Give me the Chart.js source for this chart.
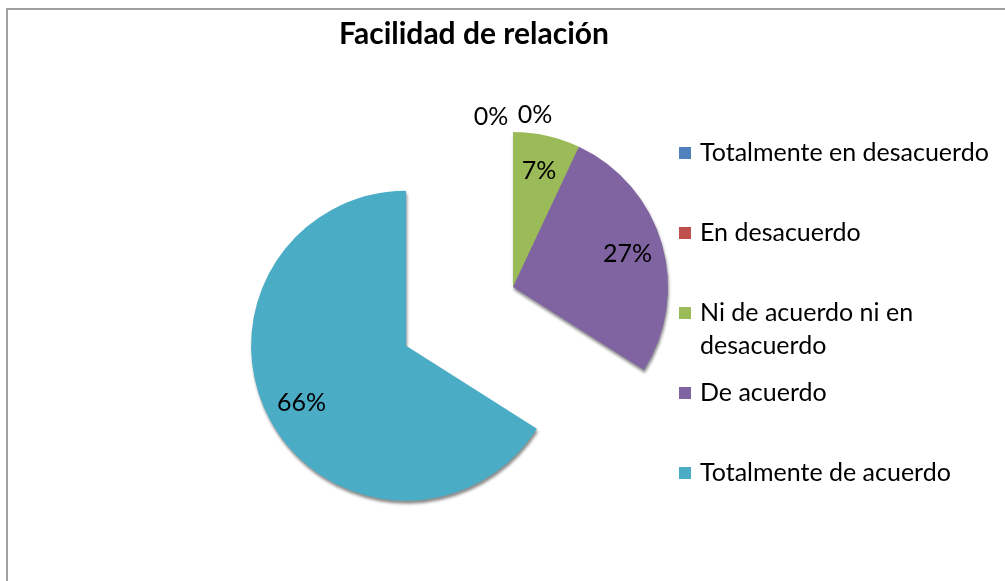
<!DOCTYPE html>
<html>
<head>
<meta charset="utf-8">
<script src="https://cdn.jsdelivr.net/npm/chart.js@4.4.0/dist/chart.umd.min.js"></script>
<style>
html, body { margin: 0; padding: 0; background: #fff; }
#wrap { position: relative; width: 1005px; height: 581px; overflow: hidden; }
#frame { position: absolute; left: 6px; top: 8px; width: 1100px; height: 700px; border-left: 2px solid #a0a0a0; border-top: 2px solid #a0a0a0; }
canvas { position: absolute; left: 0; top: 0; }
</style>
</head>
<body>
<div id="wrap">
    <div id="frame"></div>
    <canvas id="pieChart" width="1005" height="581"></canvas>
</div>
<script>
// datos
const chartTitle = 'Facilidad de relación';
const categories = ['Totalmente en desacuerdo', 'En desacuerdo', 'Ni de acuerdo ni en desacuerdo', 'De acuerdo', 'Totalmente de acuerdo'];
const percentages = [0, 0, 7, 27, 66];

const palette = ['#4F81BD', '#C0504D', '#9BBB59', '#8064A2', '#4BACC6'];
const explode = [0, 0, 0, 0, 122]; // separacion de la porcion (px)
const labelFont = '25px Lato';

// 1. Porcion separada (como en Excel: se mueve sin cambiar el radio)
const explodeSlices = {
    id: 'explodeSlices',
    afterDatasetUpdate(chart, args) {
        args.meta.data.forEach((arc, i) => {
            if (!explode[i]) return;
            const mid = (arc.startAngle + arc.endAngle) / 2;
            arc.x += Math.cos(mid) * explode[i];
            arc.y += Math.sin(mid) * explode[i];
        });
    }
};

// 2. Titulo y leyenda dibujados a mano
const titleAndLegend = {
    id: 'titleAndLegend',
    afterDraw(chart) {
        const c = chart.ctx;
        c.save();
        c.fillStyle = '#000';
        c.textBaseline = 'middle';
        c.textAlign = 'center';
        c.font = 'bold 30px Lato';
        c.fillText(chartTitle, 474, 34);

        c.font = labelFont;
        c.textAlign = 'left';
        chart.data.labels.forEach((txt, i) => {
            const y = 153 + i * 80;
            c.fillStyle = palette[i];
            c.fillRect(679, y - 6, 12, 12);
            c.fillStyle = '#000';
            // partir el texto en lineas
            const words = txt.split(' ');
            let lines = [], line = '';
            words.forEach(w => {
                const test = line ? line + ' ' + w : w;
                if (c.measureText(test).width > 300 && line) { lines.push(line); line = w; }
                else line = test;
            });
            lines.push(line);
            lines.forEach((l, k) => c.fillText(l, 700, y + k * 33));
        });
        c.restore();
    }
};

// 3. Etiquetas de porcentaje
const sliceLabels = {
    id: 'sliceLabels',
    afterDatasetsDraw(chart) {
        const c = chart.ctx;
        const arcs = chart.getDatasetMeta(0).data;
        const zeros = percentages.filter(v => v === 0).length;
        let z = 0;
        c.save();
        c.font = labelFont;
        c.fillStyle = '#000';
        c.textAlign = 'center';
        c.textBaseline = 'middle';
        arcs.forEach((arc, i) => {
            const mid = (arc.startAngle + arc.endAngle) / 2;
            let x, y;
            if (percentages[i] === 0) {
                const r = arc.outerRadius + 17;
                x = arc.x + Math.cos(mid) * r + (z - (zeros - 1) / 2) * 44;
                y = arc.y + Math.sin(mid) * r + (zeros - 1 - z) * 2;
                z++;
            } else {
                const r = arc.outerRadius * 0.77;
                x = arc.x + Math.cos(mid) * r;
                y = arc.y + Math.sin(mid) * r;
            }
            c.fillText(percentages[i] + '%', x, y);
        });
        c.restore();
    }
};

// 4. Sombra ligera (efecto 3D)
const sliceShadow = {
    id: 'sliceShadow',
    beforeDatasetsDraw(chart) {
        const c = chart.ctx;
        c.save();
        c.shadowColor = 'rgba(0,0,0,0.45)';
        c.shadowBlur = 3;
        c.shadowOffsetX = 1;
        c.shadowOffsetY = 3;
    },
    afterDatasetsDraw(chart) {
        chart.ctx.restore();
    }
};

const ctx = document.getElementById('pieChart').getContext('2d');
new Chart(ctx, {
    type: 'pie',
    data: {
        labels: categories,
        datasets: [{
            data: percentages,
            backgroundColor: palette,
            borderWidth: 0,
            hoverBorderWidth: 0,
            hoverOffset: 0
        }]
    },
    options: {
        responsive: false,
        animation: false,
        events: [],
        layout: { padding: { left: 358, right: 337, top: 132, bottom: 139 } },
        plugins: {
            legend: { display: false },
            title: { display: false },
            tooltip: { enabled: false }
        }
    },
    plugins: [explodeSlices, sliceShadow, sliceLabels, titleAndLegend]
});
</script>
</body>
</html>
